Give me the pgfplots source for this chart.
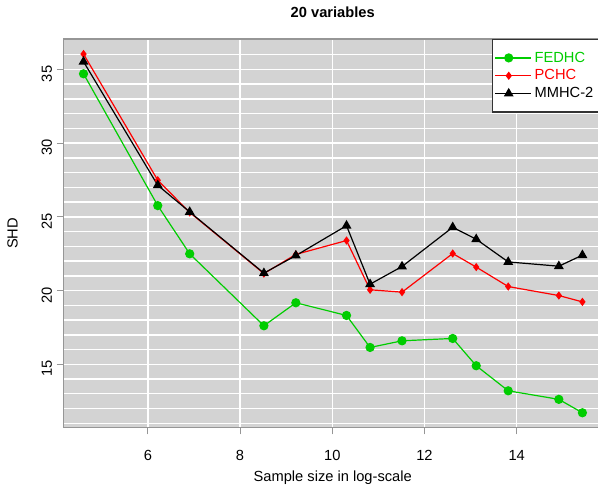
\documentclass[border=0pt]{standalone}
\usepackage{pgfplots}
\pgfplotsset{compat=1.18}
\usepackage{fontspec}
\setmainfont{Liberation Sans}
\usetikzlibrary{calc}
\definecolor{rgreen}{RGB}{0,205,0}
\definecolor{rred}{RGB}{255,0,0}
\definecolor{bg}{RGB}{211,211,211}
\definecolor{boxgray}{RGB}{150,150,150}
\begin{document}
\begin{tikzpicture}
\begin{axis}[
  scale only axis,
  width=403.9pt, height=291.5pt,
  xmin=4.17, xmax=15.85, ymin=10.70, ymax=37.06,
  axis background/.style={fill=bg},
  axis line style={boxgray, line width=0.8pt},
  xtick={6,8,10,12,14},
  ytick={15,20,25,30,35},
  minor ytick={11,12,13,14,16,17,18,19,21,22,23,24,26,27,28,29,31,32,33,34,36},
  minor tick length=0pt,
  xmajorgrids, ymajorgrids, yminorgrids,
  grid style={white, line width=1.1pt},
  minor grid style={white, line width=1.1pt},
  tick align=outside,
  major tick length=5pt,
  xtick pos=bottom, ytick pos=left,
  tick style={boxgray, line width=0.8pt},
  /pgf/number format/assume math mode=true,
  ticklabel style={font=\fontsize{11}{13}\selectfont},
  yticklabel style={rotate=90, anchor=south, xshift=-3.4pt},
  xticklabel style={yshift=-8.5pt},
  xlabel={Sample size in log-scale},
  ylabel={SHD},
  label style={font=\fontsize{11}{13}\selectfont},
  xlabel style={at={(axis description cs:0.5,0)}, anchor=center, yshift=-37.7pt},
  ylabel style={at={(axis description cs:0,0.5)}, anchor=center, yshift=38.1pt},
  title={\bfseries 20 variables},
  title style={font=\fontsize{11}{13}\selectfont, at={(axis description cs:0.5,1)}, anchor=center, yshift=14.25pt},
  legend style={at={(rel axis cs:0.795,1)}, anchor=north west, draw=black!80, fill=white, line width=0.8pt,
    font=\fontsize{11}{13}\selectfont, row sep=0.2pt, inner xsep=2pt, inner ysep=7.2pt},
  legend cell align=left,
  legend image code/.code={
    \draw[#1, mark repeat=2, mark phase=2] plot coordinates {(0pt,0pt) (10pt,0pt) (20pt,0pt)};
    \path (0pt,0pt) -- (27pt,0pt);
  },
]
\addplot[rgreen, line width=0.9pt, mark=*, mark size=3pt, mark options={fill=rgreen, draw=rgreen}] coordinates {
(4.605,34.70) (6.215,25.76) (6.908,22.49) (8.517,17.61) (9.210,19.17) (10.309,18.31) (10.820,16.14) (11.513,16.59) (12.612,16.75) (13.122,14.90) (13.816,13.20) (14.914,12.62) (15.425,11.71)
};
\addlegendentry{\textcolor{rgreen}{FEDHC}}
\addplot[rred, line width=0.9pt, mark=diamond*, mark size=2.4pt, mark options={fill=rred, draw=rred}] coordinates {
(4.605,36.04) (6.215,27.48) (6.908,25.30) (8.517,21.15) (9.210,22.45) (10.309,23.39) (10.820,20.05) (11.513,19.89) (12.612,22.51) (13.122,21.59) (13.816,20.27) (14.914,19.66) (15.425,19.23)
};
\addlegendentry{\textcolor{rred}{PCHC}}
\addplot[black, line width=0.9pt, mark=triangle*, mark size=3.4pt, mark options={fill=black, draw=black}] coordinates {
(4.605,35.52) (6.215,27.14) (6.908,25.33) (8.517,21.18) (9.210,22.37) (10.309,24.40) (10.820,20.43) (11.513,21.63) (12.612,24.29) (13.122,23.48) (13.816,21.94) (14.914,21.65) (15.425,22.40)
};
\addlegendentry{MMHC-2\hspace{10pt}}
\end{axis}
\pgfresetboundingbox
\useasboundingbox ($(current axis.south west)+(-47.6pt,-47.5pt)$) rectangle ($(current axis.north east)+(-3pt,29.25pt)$);
\end{tikzpicture}
\end{document}
